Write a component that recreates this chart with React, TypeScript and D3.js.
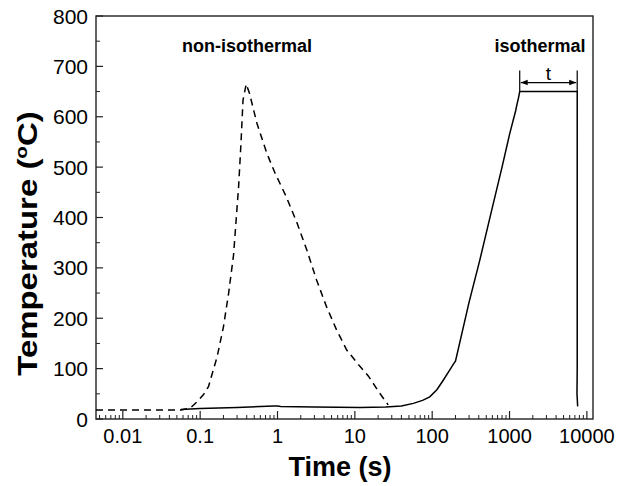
import React from "react";
import * as d3 from "d3";

// Non-isothermal cycle (dashed)
const nonIsoTime = [0.0045, 0.056, 0.075, 0.091, 0.11, 0.128, 0.166, 0.2, 0.233, 0.27, 0.314, 0.337, 0.358, 0.394, 0.435, 0.542, 0.73, 0.93, 1.3, 1.8, 2.4, 3.2, 4.3, 5.8, 7.85, 11.7, 15, 21, 27];
const nonIsoTemp = [18, 18, 22, 34, 48, 64, 124, 183, 249, 325, 461, 547, 633, 665, 646, 587, 527, 488, 441, 388, 335, 276, 223, 177, 137, 104, 85, 51, 28];

// Isothermal cycle (solid)
const isoTime = [0.056, 0.1, 0.3, 0.89, 1.0, 1.1, 3, 11.7, 25, 40, 57, 75, 93, 115, 139, 165, 190, 200, 300, 412, 600, 800, 1000, 1200, 1250, 1300, 1354, 7500, 7500, 7450, 7600];
const isoTemp = [19, 21, 23, 26, 26, 25, 24, 23, 24, 26, 31, 37, 44, 58, 77, 95, 110, 115, 232, 315, 420, 500, 565, 612, 625, 636, 650, 650, 100, 50, 25];

// Hold interval annotated with "t"
const holdTimes = [1354, 7500];
const holdTemp = 650;

const xTickValues = [0.01, 0.1, 1, 10, 100, 1000, 10000];
const xTickLabels = ["0.01", "0.1", "1", "10", "100", "1000", "10000"];
const yTickValues = [0, 100, 200, 300, 400, 500, 600, 700, 800];

const W = 627;
const H = 486;
const M = { left: 96, right: 593, top: 16, bottom: 419 };
const FONT = "'Liberation Sans', Arial, Helvetica, sans-serif";

export default function App() {
  const x = d3.scaleLog().domain([0.0045, 12000]).range([M.left, M.right]);
  const y = d3.scaleLinear().domain([0, 800]).range([M.bottom, M.top]);

  const line = d3
    .line<[number, number]>()
    .x((d) => x(d[0]))
    .y((d) => y(d[1]));

  const dashedData = nonIsoTime.map((t, i) => [t, nonIsoTemp[i]] as [number, number]);
  const solidData = isoTime.map((t, i) => [t, isoTemp[i]] as [number, number]);

  const minorX: number[] = [];
  for (let e = -3; e <= 4; e++) {
    for (let m = 2; m <= 9; m++) {
      const v = m * Math.pow(10, e);
      if (v >= 0.0045 && v <= 12000) minorX.push(v);
    }
  }
  const minorY = d3.range(50, 800, 100);

  const x0 = x(holdTimes[0]);
  const x1 = x(holdTimes[1]);
  const yHold = y(holdTemp);
  const yArrow = yHold - 9;

  return (
    <svg
      width={W}
      height={H}
      style={{ position: "absolute", left: 0, top: 0, background: "#fff" }}
      fontFamily={FONT}
    >
      <defs>
        <marker id="ah" viewBox="0 0 10 10" refX="10" refY="5" markerWidth="9" markerHeight="7" orient="auto-start-reverse" markerUnits="userSpaceOnUse">
          <path d="M0,1 L10,5 L0,9 Z" fill="#000" />
        </marker>
      </defs>
      <rect x={0} y={0} width={W} height={H} fill="#fff" />

      {/* ticks */}
      {xTickValues.map((v) => (
        <line key={"xt" + v} x1={x(v)} x2={x(v)} y1={M.bottom} y2={M.bottom - 8} stroke="#222" strokeWidth={1.2} />
      ))}
      {minorX.map((v) => (
        <line key={"xm" + v} x1={x(v)} x2={x(v)} y1={M.bottom} y2={M.bottom - 4} stroke="#222" strokeWidth={1} />
      ))}
      {yTickValues.map((v) => (
        <line key={"yt" + v} x1={M.left} x2={M.left + 7} y1={y(v)} y2={y(v)} stroke="#222" strokeWidth={1.2} />
      ))}
      {minorY.map((v) => (
        <line key={"ym" + v} x1={M.left} x2={M.left + 4} y1={y(v)} y2={y(v)} stroke="#222" strokeWidth={1} />
      ))}

      {/* frame */}
      <rect x={M.left} y={M.top} width={M.right - M.left} height={M.bottom - M.top} fill="none" stroke="#222" strokeWidth={1.4} />

      {/* tick labels */}
      {xTickValues.map((v, i) => (
        <text key={"xl" + v} x={x(v)} y={443} textAnchor="middle" fontSize={20} fill="#000">
          {xTickLabels[i]}
        </text>
      ))}
      {yTickValues.map((v) => (
        <text key={"yl" + v} x={88} y={y(v) + 7.5} textAnchor="end" fontSize={21} fill="#000">
          {v}
        </text>
      ))}

      {/* axis titles */}
      <text x={340} y={476} textAnchor="middle" fontSize={27} fontWeight="bold" fill="#000">
        Time (s)
      </text>
      <text transform="translate(37,243.5) rotate(-90) scale(1.22,1)" textAnchor="middle" fontSize={27} fontWeight="bold" fill="#000">
        <tspan>Temperature (</tspan>
        <tspan dy={-10} fontSize={17}>o</tspan>
        <tspan dy={10}>C)</tspan>
      </text>

      {/* data */}
      <path d={line(dashedData) || ""} fill="none" stroke="#000" strokeWidth={1.5} strokeDasharray="7,5" />
      <path d={line(solidData) || ""} fill="none" stroke="#000" strokeWidth={1.5} />

      {/* annotations */}
      <text x={247} y={52} textAnchor="middle" fontSize={18} fontWeight="bold" fill="#000">
        non-isothermal
      </text>
      <text x={540} y={52} textAnchor="middle" fontSize={18} fontWeight="bold" fill="#000">
        isothermal
      </text>
      <line x1={x0} x2={x0} y1={yHold - 21} y2={yHold} stroke="#000" strokeWidth={1.2} />
      <line x1={x1} x2={x1} y1={yHold - 21} y2={yHold} stroke="#000" strokeWidth={1.2} />
      <line x1={x0 + 1} x2={x1 - 1} y1={yArrow} y2={yArrow} stroke="#000" strokeWidth={1.2} markerStart="url(#ah)" markerEnd="url(#ah)" />
      <text x={(x0 + x1) / 2} y={yArrow - 3} textAnchor="middle" fontSize={19} fill="#000">
        t
      </text>
    </svg>
  );
}
